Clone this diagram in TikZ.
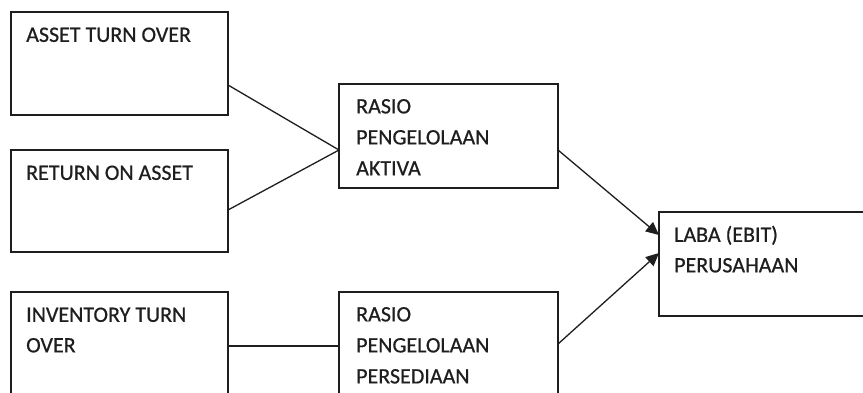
\documentclass[tikz,border=0pt]{standalone}
\usepackage{fontspec}
\setmainfont[FakeBold=0.6,AutoFakeBold=0.6]{Carlito}
\usetikzlibrary{arrows.meta}
\definecolor{ink}{HTML}{1E1E1E}
\tikzset{
  box/.style={draw=ink, line width=1.3pt, rectangle, inner sep=0pt, outer sep=0pt, anchor=north west},
  txt/.style={inner sep=0pt, anchor=north west, align=left, text=ink, font=\fontsize{22}{30.5}\selectfont\bfseries},
  conn/.style={draw=ink, line width=1.3pt},
  arr/.style={conn, -{Triangle[length=13pt,width=12pt]}}
}
\begin{document}
\begin{tikzpicture}[x=1pt,y=-1pt]
\useasboundingbox (0,0) rectangle (863,392);
\clip (0,0) rectangle (863,392);
\fill[white] (0,0) rectangle (863,392);
% boxes
\node[box, minimum width=217pt, minimum height=103pt] (b1) at (11,12) {};
\node[box, minimum width=217pt, minimum height=102pt] (b2) at (11,150) {};
\node[box, minimum width=217pt, minimum height=110pt] (b3) at (11,292) {};
\node[box, minimum width=219pt, minimum height=104pt] (r1) at (339,84) {};
\node[box, minimum width=219pt, minimum height=110pt] (r2) at (339,292) {};
\node[box, minimum width=230pt, minimum height=104pt] (laba) at (659,212) {};
% texts
\node[txt] (t1) at ([xshift=15pt,yshift=-8.3pt]b1.north west) {\strut ASSET TURN OVER};
\node[txt] (t2) at ([xshift=15pt,yshift=-8.3pt]b2.north west) {\strut RETURN ON ASSET};
\node[txt] (t3) at ([xshift=15pt,yshift=-8.3pt]b3.north west) {\strut INVENTORY TURN\\OVER};
\node[txt, font=\fontsize{22}{31}\selectfont\bfseries] (t4) at ([xshift=17pt,yshift=-7.5pt]r1.north west) {\strut RASIO\\PENGELOLAAN\\AKTIVA};
\node[txt, font=\fontsize{22}{31}\selectfont\bfseries] (t5) at ([xshift=17pt,yshift=-7.5pt]r2.north west) {\strut RASIO\\PENGELOLAAN\\PERSEDIAAN};
\node[txt] (t6) at ([xshift=15pt,yshift=-8.3pt]laba.north west) {\strut LABA (EBIT)\\PERUSAHAAN};
% connector points
\coordinate (m1) at ([yshift=-14pt]r1.west);
\draw[conn] ([yshift=30pt]b1.south east) -- (m1);
\draw[conn] ([yshift=-60pt]b2.north east) -- (m1);
\draw[conn] ([yshift=-54pt]b3.north east) -- ([yshift=-54pt]r2.north west);
\draw[arr] ([yshift=-14pt]r1.east) -- ([yshift=29pt]laba.west);
\draw[arr] ([yshift=-52pt]r2.north east) -- ([yshift=11pt]laba.west);
\end{tikzpicture}
\end{document}
